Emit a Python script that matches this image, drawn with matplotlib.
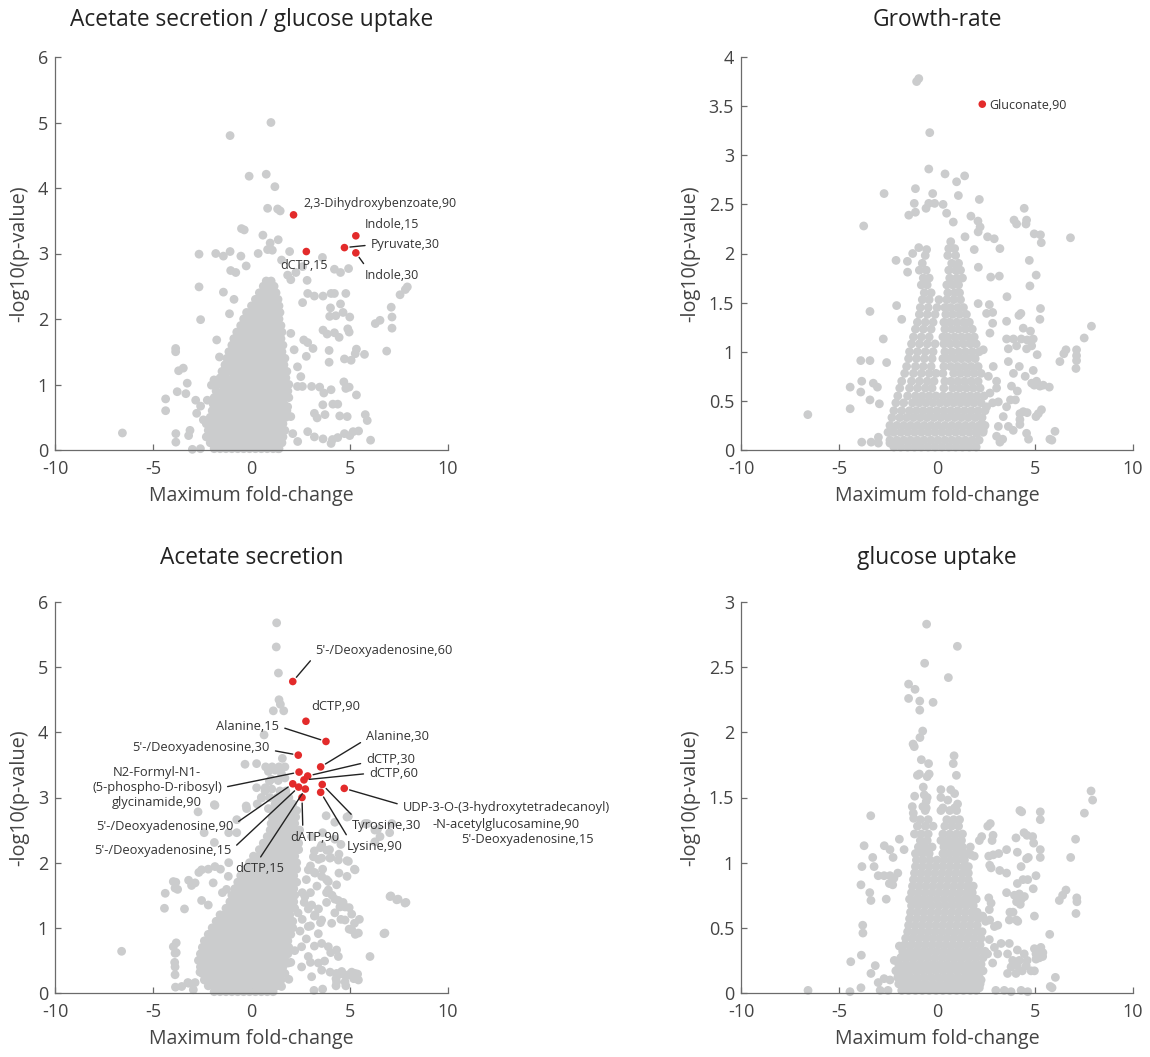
import matplotlib
matplotlib.use('Agg')
import matplotlib.pyplot as plt
from matplotlib.ticker import FuncFormatter
import numpy as np

plt.rcParams['font.family'] = ['Open Sans', 'DejaVu Sans']

GRAY = '#cbcccd'
RED = '#e32b2b'
TXT = '#333333'

# ---------------- Acetate secretion / glucose uptake ----------------
tl_core = [
    (0.02, [-1.9, -1.6, -1.3, -1.0, -0.7, -0.4, -0.1, 0.2, 0.5, 0.8, 1.1, 1.4]),
    (0.11, [-2.1, -1.75, -1.45, -1.15, -0.85, -0.55, -0.25, 0.05, 0.35, 0.65, 0.95, 1.25, 1.55]),
    (0.20, [-2.3, -2.0, -1.7, -1.4, -1.1, -0.8, -0.5, -0.2, 0.1, 0.4, 0.7, 1.0, 1.3, 1.6]),
    (0.30, [-2.2, -1.85, -1.55, -1.25, -0.95, -0.65, -0.35, -0.05, 0.25, 0.55, 0.85, 1.15, 1.45, 1.7]),
    (0.40, [-2.3, -2.0, -1.7, -1.4, -1.1, -0.8, -0.5, -0.2, 0.1, 0.4, 0.7, 1.0, 1.3, 1.6]),
    (0.50, [-2.1, -1.85, -1.55, -1.25, -0.95, -0.65, -0.35, -0.05, 0.25, 0.55, 0.85, 1.15, 1.45, 1.75]),
    (0.60, [-2.0, -1.7, -1.4, -1.1, -0.8, -0.5, -0.2, 0.1, 0.4, 0.7, 1.0, 1.3, 1.6, 1.8]),
    (0.70, [-1.95, -1.65, -1.35, -1.05, -0.75, -0.45, -0.15, 0.15, 0.45, 0.75, 1.05, 1.35, 1.65]),
    (0.80, [-1.9, -1.6, -1.3, -1.0, -0.7, -0.4, -0.1, 0.2, 0.5, 0.8, 1.1, 1.4, 1.7, 1.9]),
    (0.90, [-1.8, -1.45, -1.15, -0.85, -0.55, -0.25, 0.05, 0.35, 0.65, 0.95, 1.25, 1.55, 1.85]),
    (1.00, [-1.7, -1.4, -1.1, -0.8, -0.5, -0.2, 0.1, 0.4, 0.7, 1.0, 1.3, 1.6, 1.9]),
    (1.10, [-1.6, -1.3, -0.95, -0.65, -0.35, -0.05, 0.25, 0.55, 0.85, 1.15, 1.45, 1.75]),
    (1.20, [-1.5, -1.2, -0.9, -0.6, -0.3, 0.0, 0.3, 0.6, 0.9, 1.2, 1.5, 1.8]),
    (1.30, [-1.35, -1.05, -0.75, -0.45, -0.15, 0.15, 0.45, 0.75, 1.05, 1.35, 1.65]),
    (1.40, [-1.25, -0.95, -0.65, -0.35, -0.05, 0.25, 0.55, 0.85, 1.15, 1.45, 1.7]),
    (1.50, [-1.15, -0.85, -0.55, -0.25, 0.05, 0.35, 0.65, 0.95, 1.25, 1.55]),
    (1.60, [-1.0, -0.7, -0.4, -0.1, 0.2, 0.5, 0.8, 1.1, 1.4, 1.6]),
    (1.70, [-0.9, -0.6, -0.3, 0.0, 0.3, 0.6, 0.9, 1.2, 1.5]),
    (1.80, [-0.75, -0.45, -0.15, 0.15, 0.45, 0.75, 1.05, 1.35, 1.55]),
    (1.90, [-0.55, -0.25, 0.05, 0.35, 0.65, 0.95, 1.25, 1.5]),
    (2.00, [-0.4, -0.1, 0.2, 0.5, 0.8, 1.1, 1.4]),
    (2.10, [-0.25, 0.05, 0.35, 0.65, 0.95, 1.25, 1.45]),
    (2.20, [0.0, 0.3, 0.6, 0.9, 1.2, 1.4]),
    (2.30, [0.2, 0.5, 0.8, 1.1, 1.35]),
    (2.40, [0.4, 0.7, 1.0, 1.25]),
    (2.50, [0.6, 0.9, 1.15]),
    (2.58, [0.75, 1.0]),
]
tl_pts = [
    (0.99, 5.00), (-1.09, 4.80), (0.75, 4.21), (-0.12, 4.18), (1.19, 4.02), (1.33, 3.68), (0.82, 3.69), (1.46, 3.65),
    (-0.51, 3.38), (-0.37, 3.36), (0.58, 3.28), (1.36, 3.21), (0.95, 3.16),
    (-2.67, 2.99), (-1.82, 3.00), (-1.43, 2.96), (-1.09, 3.03), (-0.54, 2.96), (0.34, 3.00), (0.82, 3.06),
    (1.06, 3.05), (1.94, 3.03), (1.53, 2.90), (3.61, 2.94), (4.94, 2.77), (4.22, 2.76), (4.53, 2.71),
    (-1.06, 2.74), (-0.80, 2.71), (-0.27, 2.81), (-2.67, 2.49), (-1.43, 2.41), (-0.89, 2.30),
    (2.83, 2.59), (2.86, 2.39), (3.20, 2.35), (3.64, 2.35), (4.05, 2.39), (4.22, 2.39), (4.80, 2.39),
    (7.56, 2.37), (7.83, 2.45), (7.93, 2.49), (7.11, 2.18), (4.53, 2.23), (4.02, 2.17), (2.60, 2.25),
    (-2.59, 1.99), (-1.12, 2.08), (-0.17, 1.98), (3.98, 2.04), (4.29, 2.05), (4.66, 2.10), (5.00, 2.03),
    (6.54, 1.98), (6.30, 1.93), (7.15, 2.03), (7.15, 1.86), (3.64, 1.83), (3.85, 1.77), (4.22, 1.79),
    (4.46, 1.72), (4.97, 1.80), (4.90, 1.85), (-1.77, 1.68), (2.66, 1.68), (2.86, 1.64), (3.13, 1.55),
    (-3.86, 1.55), (-3.86, 1.50), (3.95, 1.52), (5.34, 1.54), (5.75, 1.46), (6.88, 1.51), (5.28, 1.47),
    (-1.63, 1.42), (2.79, 1.43), (4.73, 1.39), (5.07, 1.37), (3.95, 1.34), (-3.47, 1.25), (-3.71, 1.21),
    (-1.91, 1.07), (-2.04, 0.99), (4.70, 1.04), (4.97, 0.96), (5.34, 0.84), (4.80, 0.94),
    (3.06, 0.97), (3.47, 0.96), (2.59, 0.97), (3.68, 0.87), (4.05, 0.92), (-3.78, 0.89), (-3.34, 0.86),
    (-3.27, 1.02), (-4.37, 0.78), (-4.37, 0.60), (-2.84, 0.76), (-2.59, 0.67), (-2.79, 0.56), (-2.25, 0.76),
    (-2.45, 0.46), (3.20, 0.56), (3.34, 0.49), (3.74, 0.54), (4.14, 0.70), (3.63, 0.69), (4.39, 0.70),
    (4.49, 0.52), (4.87, 0.51), (5.79, 0.54), (5.89, 0.45), (-3.85, 0.25), (-3.85, 0.12), (-3.13, 0.30),
    (-3.20, 0.22), (-6.57, 0.26), (-3.01, 0.01), (-2.60, 0.02), (2.35, 0.13), (1.36, 0.02),
    (2.86, 0.28), (3.20, 0.20), (3.64, 0.17), (4.12, 0.16), (4.05, 0.10), (4.39, 0.19), (4.73, 0.25),
    (5.00, 0.22), (5.17, 0.28), (5.45, 0.29), (6.06, 0.15),
    (2.00, 2.60), (2.26, 2.71), (2.60, 2.80), (1.84, 2.67), (2.00, 1.78), (2.17, 1.53), (2.34, 1.27),
    (2.51, 1.12), (2.34, 0.97), (2.00, 0.51), (2.10, 0.25), (1.84, 0.66),
]
tl_red = [(2.14, 3.59), (2.79, 3.03), (4.73, 3.09), (5.31, 3.27), (5.31, 3.01)]
tl_labels = ['2,3-Dihydroxybenzoate,90', 'dCTP,15', 'Pyruvate,30', 'Indole,15', 'Indole,30']

# ---------------- Growth-rate ----------------
tr_core = [
    (0.03, [-2.2, -1.85, -1.5, -1.15, -0.8, -0.45, -0.1, 0.25, 0.6, 0.95, 1.3, 1.65, 2.0]),
    (0.10, [-2.4, -2.05, -1.7, -1.35, -1.0, -0.65, -0.3, 0.05, 0.4, 0.75, 1.1, 1.45, 1.8, 2.15]),
    (0.18, [-2.5, -2.2, -1.85, -1.5, -1.15, -0.8, -0.45, -0.1, 0.25, 0.6, 0.95, 1.3, 1.65, 2.0, 2.35]),
    (0.25, [-2.4, -2.05, -1.7, -1.35, -1.0, -0.65, -0.3, 0.05, 0.4, 0.75, 1.1, 1.45, 1.8, 2.15, 2.45]),
    (0.33, [-2.3, -1.9, -1.55, -1.2, -0.85, -0.5, -0.15, 0.2, 0.55, 0.9, 1.25, 1.6, 1.95, 2.3]),
    (0.40, [-2.2, -1.8, -1.4, -1.05, -0.7, -0.35, 0.0, 0.35, 0.7, 1.05, 1.4, 1.75, 2.1, 2.45]),
    (0.48, [-2.1, -1.7, -1.25, -0.9, -0.55, -0.2, 0.15, 0.5, 0.85, 1.2, 1.55, 1.9, 2.25]),
    (0.55, [-2.0, -1.5, -1.1, -0.75, -0.4, -0.05, 0.3, 0.65, 1.0, 1.35, 1.7, 2.05, 2.4]),
    (0.63, [-1.9, -1.4, -1.0, -0.6, -0.25, 0.35, 0.8, 1.15, 1.5, 1.85, 2.2]),
    (0.70, [-1.8, -1.3, -0.9, -0.5, -0.15, 0.4, 0.7, 1.05, 1.4, 1.75, 2.1]),
    (0.78, [-1.65, -1.2, -0.8, -0.4, -0.05, 0.3, 0.85, 1.2, 1.55, 1.9, 2.25]),
    (0.85, [-1.55, -1.1, -0.7, -0.3, 0.35, 0.7, 1.05, 1.4, 1.75, 2.1]),
    (0.93, [-1.45, -1.05, -0.65, -0.25, 0.3, 0.55, 0.9, 1.25, 1.6, 1.95]),
    (1.00, [-1.4, -1.0, -0.6, -0.2, 0.4, 0.75, 1.1, 1.45, 1.8, 2.15]),
    (1.08, [-1.3, -0.9, -0.5, -0.1, 0.35, 0.65, 1.0, 1.35, 1.7, 2.0]),
    (1.15, [-1.2, -0.8, -0.4, 0.3, 0.55, 0.9, 1.25, 1.6, 1.9]),
    (1.23, [-1.1, -0.7, -0.3, 0.4, 0.75, 1.1, 1.45, 1.8]),
    (1.30, [-1.0, -0.6, -0.2, 0.35, 0.65, 1.0, 1.35, 1.65]),
    (1.38, [-0.9, -0.5, -0.1, 0.45, 0.8, 1.15, 1.5]),
    (1.45, [-0.85, -0.45, 0.0, 0.4, 0.7, 1.05, 1.35]),
    (1.53, [-0.75, -0.4, 0.1, 0.5, 0.85, 1.2]),
    (1.60, [-0.65, -0.3, 0.55, 0.9, 1.15]),
    (1.68, [-0.8, -0.5, 0.5, 0.8, 1.1]),
    (1.75, [-0.7, -0.4, 0.65, 1.0, 1.3]),
    (1.83, [-0.9, -0.55, 0.6, 0.95, 1.2]),
    (1.90, [-0.75, 0.75, 1.1]),
    (1.98, [-0.6, 0.55, 0.95]),
    (2.05, [0.6, 0.9]),
    (2.12, [0.7]),
]
tr_pts = [
    (-1.04, 3.75), (-0.93, 3.78), (-0.37, 3.23), (-0.42, 2.86), (0.41, 2.81), (1.41, 2.79), (1.00, 2.73),
    (-1.10, 2.66), (-0.22, 2.61), (1.09, 2.59), (-2.70, 2.61), (2.16, 2.55),
    (-1.16, 2.51), (-0.42, 2.51), (-0.12, 2.51), (0.31, 2.50), (-0.56, 2.46), (-1.10, 2.42), (-1.44, 2.39),
    (0.49, 2.41), (-3.74, 2.28), (1.73, 2.38), (2.09, 2.33), (0.83, 2.32),
    (4.45, 2.46), (4.57, 2.34), (3.93, 2.34), (4.06, 2.30), (4.54, 2.30), (4.96, 2.20), (5.28, 2.19),
    (5.32, 2.11), (6.81, 2.16), (2.58, 2.17), (2.92, 2.15), (3.21, 2.05), (2.10, 2.22), (2.20, 2.27),
    (1.43, 2.17), (1.90, 2.04), (-0.93, 2.06), (-0.53, 2.04), (-1.24, 2.00), (-2.09, 1.93), (-1.51, 1.92),
    (4.71, 1.93), (2.11, 1.86), (5.06, 1.78), (2.74, 1.76), (3.18, 1.77), (-1.50, 1.81),
    (4.74, 1.67), (3.57, 1.56), (-2.06, 1.47), (2.67, 1.48), (2.84, 1.40), (5.28, 1.44), (5.25, 1.33),
    (4.28, 1.39), (4.18, 1.37), (-3.42, 1.41), (-1.80, 1.33), (3.55, 1.31), (2.84, 1.29),
    (7.88, 1.26), (7.51, 1.14), (4.77, 1.21), (4.40, 1.24), (-2.74, 1.13),
    (7.12, 1.02), (7.12, 0.96), (7.12, 0.91), (7.09, 0.83), (6.58, 1.02), (6.47, 0.98), (6.27, 0.90),
    (3.55, 1.13), (3.90, 1.13), (4.30, 1.13), (4.60, 1.12), (4.91, 1.13), (3.64, 1.03), (4.06, 1.06),
    (4.57, 1.03), (4.83, 1.06), (5.11, 0.97), (3.64, 0.90), (4.91, 0.81), (4.20, 0.85), (3.90, 0.78),
    (4.50, 0.75), (-3.89, 0.91), (-3.42, 0.91), (-2.57, 0.89),
    (-3.84, 0.70), (-3.89, 0.59), (-3.25, 0.68), (-3.04, 0.64), (-4.43, 0.64), (-4.43, 0.42), (-3.42, 0.51),
    (-2.94, 0.47), (-6.59, 0.36), (-3.84, 0.08), (-3.36, 0.08), (-2.99, 0.13), (-2.99, 0.07), (-2.40, 0.07),
    (-2.05, 0.07), (5.73, 0.64), (5.25, 0.65), (4.96, 0.66), (4.83, 0.68), (3.04, 0.70), (3.04, 0.63),
    (5.17, 0.37), (5.33, 0.41), (5.05, 0.34), (6.02, 0.19), (5.76, 0.11), (5.86, 0.10),
    (3.35, 0.11), (3.21, 0.08), (3.04, 0.14), (3.64, 0.24), (3.89, 0.20), (4.23, 0.26), (4.23, 0.31),
    (4.23, 0.37), (4.57, 0.17), (4.67, 0.11), (4.40, 0.39), (4.60, 0.38), (3.80, 0.65), (4.10, 0.60),
    (4.00, 0.51), (3.75, 0.51), (3.55, 0.44), (3.38, 0.34), (3.13, 0.24), (3.13, 0.49), (2.70, 0.58),
    (2.84, 0.48), (2.53, 0.44), (2.28, 0.27), (2.36, 0.20), (2.02, 0.17), (5.08, 0.70), (5.42, 0.66),
    (2.10, 1.49), (2.53, 1.39), (2.70, 1.19), (2.36, 1.02), (2.87, 0.85), (2.62, 0.75),
]
tr_red = [(2.31, 3.52)]
tr_labels = ['Gluconate,90']

# ---------------- Acetate secretion ----------------
bl_core = [
    (0.02, [-1.9, -1.6, -1.3, -1.0, -0.7, -0.4, -0.1, 0.2, 0.5, 0.8, 1.1]),
    (0.11, [-2.2, -1.9, -1.6, -1.3, -1.0, -0.7, -0.4, -0.1, 0.2, 0.5, 0.8, 1.1, 1.3]),
    (0.20, [-2.4, -2.05, -1.75, -1.45, -1.15, -0.85, -0.55, -0.25, 0.05, 0.35, 0.65, 0.95, 1.25, 1.5]),
    (0.30, [-2.5, -2.2, -1.9, -1.6, -1.3, -1.0, -0.7, -0.4, -0.1, 0.2, 0.5, 0.8, 1.1, 1.4, 1.6]),
    (0.40, [-2.6, -2.25, -1.95, -1.65, -1.35, -1.05, -0.75, -0.45, -0.15, 0.15, 0.45, 0.75, 1.05, 1.35, 1.6]),
    (0.50, [-2.7, -2.4, -2.1, -1.8, -1.5, -1.2, -0.9, -0.6, -0.3, 0.0, 0.3, 0.6, 0.9, 1.2, 1.5, 1.7]),
    (0.60, [-2.6, -2.25, -1.95, -1.65, -1.35, -1.05, -0.75, -0.45, -0.15, 0.15, 0.45, 0.75, 1.05, 1.35, 1.65, 1.85]),
    (0.70, [-2.5, -2.2, -1.9, -1.6, -1.3, -1.0, -0.7, -0.4, -0.1, 0.2, 0.5, 0.8, 1.1, 1.4, 1.7, 1.9]),
    (0.80, [-2.4, -2.05, -1.75, -1.45, -1.15, -0.85, -0.55, -0.25, 0.05, 0.35, 0.65, 0.95, 1.25, 1.55, 1.85]),
    (0.90, [-2.2, -1.9, -1.6, -1.3, -1.0, -0.7, -0.4, -0.1, 0.2, 0.5, 0.8, 1.1, 1.4, 1.7, 2.0]),
    (1.00, [-2.0, -1.75, -1.45, -1.15, -0.85, -0.55, -0.25, 0.05, 0.35, 0.65, 0.95, 1.25, 1.55, 1.85, 2.1]),
    (1.10, [-1.8, -1.5, -1.2, -0.9, -0.6, -0.3, 0.0, 0.3, 0.6, 0.9, 1.2, 1.5, 1.8, 2.1]),
    (1.20, [-1.6, -1.35, -1.05, -0.75, -0.45, -0.15, 0.15, 0.45, 0.75, 1.05, 1.35, 1.65, 1.95]),
    (1.30, [-1.3, -1.0, -0.7, -0.4, -0.1, 0.2, 0.5, 0.8, 1.1, 1.4, 1.7, 2.0, 2.2]),
    (1.40, [-1.1, -0.85, -0.55, -0.25, 0.05, 0.35, 0.65, 0.95, 1.25, 1.55, 1.85, 2.15]),
    (1.50, [-1.0, -0.7, -0.4, -0.1, 0.2, 0.5, 0.8, 1.1, 1.4, 1.7, 2.0, 2.2]),
    (1.60, [-0.85, -0.55, -0.25, 0.05, 0.35, 0.65, 0.95, 1.25, 1.55, 1.85, 2.15]),
    (1.70, [-0.7, -0.4, -0.1, 0.2, 0.5, 0.8, 1.1, 1.4, 1.7, 2.0, 2.3]),
    (1.80, [-0.55, -0.25, 0.05, 0.35, 0.65, 0.95, 1.25, 1.55, 1.85, 2.15]),
    (1.90, [-0.3, 0.0, 0.3, 0.6, 0.9, 1.2, 1.5, 1.8, 2.1, 2.3]),
    (2.00, [-0.1, 0.2, 0.5, 0.8, 1.1, 1.4, 1.7, 2.0, 2.3]),
    (2.10, [0.1, 0.4, 0.7, 1.0, 1.3, 1.6, 1.9, 2.2]),
    (2.20, [0.4, 0.7, 1.0, 1.3, 1.6, 1.9, 2.2, 2.4]),
    (2.30, [0.6, 0.9, 1.2, 1.5, 1.8, 2.1, 2.4]),
    (2.40, [0.8, 1.1, 1.4, 1.7, 2.0, 2.3]),
    (2.50, [0.95, 1.25, 1.55, 1.85, 2.15, 2.45]),
    (2.60, [1.0, 1.3, 1.6, 1.9, 2.2]),
    (2.70, [1.05, 1.35, 1.65, 1.95, 2.25]),
    (2.80, [1.1, 1.4, 1.7, 2.0, 2.3]),
    (2.90, [1.2, 1.5, 1.8, 2.1]),
    (3.00, [1.3, 1.6, 1.9]),
    (3.10, [1.45, 1.75]),
]
bl_pts = [
    (1.28, 5.68), (1.26, 5.31), (1.37, 4.91), (1.40, 4.50), (1.47, 4.43), (1.11, 4.33), (1.64, 4.33),
    (0.64, 3.96), (1.57, 3.60), (-0.33, 3.51), (0.26, 3.52), (0.72, 3.47), (1.05, 3.47), (1.40, 3.47),
    (1.70, 3.47), (0.86, 3.40), (1.20, 3.42), (1.53, 3.36), (1.00, 3.28), (1.36, 3.26), (1.70, 3.30),
    (0.26, 3.15), (0.69, 3.10), (1.03, 3.13), (1.70, 3.08), (0.50, 3.00), (0.93, 3.00), (1.70, 2.98),
    (-6.61, 0.64), (-3.83, 0.77), (-3.83, 0.62), (-3.91, 0.47), (-4.39, 1.53), (-4.43, 1.30), (-3.85, 1.70),
    (-3.76, 1.59), (-3.41, 1.29), (-2.87, 1.69), (-2.68, 1.85), (-2.20, 1.90), (-2.62, 0.32), (-2.87, 0.16),
    (-3.24, 0.16), (-3.87, 0.09), (-1.48, 1.54), (-1.95, 1.69), (-1.27, 1.59), (-1.58, 1.90), (-1.16, 2.00),
    (-1.89, 2.31), (-2.41, 2.46), (-2.72, 2.78), (-1.89, 2.89), (-0.27, 2.87), (-0.75, 2.66), (-1.16, 2.46),
    (-0.75, 2.46), (0.29, 2.90), (0.70, 3.15), (0.91, 3.25),
    (6.74, 0.91), (7.09, 1.49), (7.46, 1.44), (7.86, 1.39), (6.03, 0.56),
    (5.24, 1.07), (4.97, 0.98), (5.28, 0.90), (4.66, 1.39), (4.97, 1.31), (5.10, 1.21), (5.49, 1.13),
    (4.24, 1.23), (4.55, 1.13), (3.82, 1.54), (4.24, 1.44), (3.82, 1.39), (3.41, 1.29), (3.51, 1.08),
    (3.20, 1.18), (4.03, 0.62), (3.72, 0.49), (3.18, 0.04), (3.62, 0.06), (4.00, 0.32), (4.30, 0.22),
    (4.50, 0.29), (4.80, 0.26), (5.10, 0.32), (5.40, 0.29), (5.20, 0.22), (4.30, 0.11), (4.80, 0.11),
    (3.33, 1.64), (3.82, 1.74), (4.45, 1.84), (4.86, 1.79), (5.24, 1.90), (4.86, 2.03), (4.45, 2.13),
    (3.97, 2.20), (4.03, 2.08), (3.41, 2.05), (3.62, 1.90), (3.00, 1.95), (3.20, 1.85), (2.79, 1.74),
    (3.00, 1.54), (2.58, 1.54), (2.68, 1.39), (2.89, 1.29), (2.37, 1.23), (2.58, 1.13), (3.00, 1.03),
    (2.47, 0.95), (2.79, 0.83), (3.20, 0.72), (3.00, 0.47), (1.80, 0.80), (2.20, 0.65), (2.00, 0.47),
    (1.60, 0.32), (1.90, 0.21),
    (3.80, 2.72), (4.24, 2.62), (4.86, 2.70), (5.90, 2.60), (6.41, 2.51), (7.03, 2.46), (7.14, 2.60),
    (4.24, 2.36), (4.55, 2.28), (3.62, 2.46), (3.51, 2.23), (3.20, 2.18), (4.93, 2.71), (5.78, 2.60),
    (6.28, 2.50), (6.54, 2.40), (6.28, 2.32), (3.06, 2.40), (3.57, 2.27), (3.83, 2.19), (3.15, 2.09),
    (3.57, 2.07), (3.99, 2.07), (4.42, 2.04), (4.93, 2.02), (5.27, 1.89), (2.89, 1.89), (3.23, 1.84),
    (3.57, 1.79), (3.91, 1.71), (4.33, 1.66), (3.91, 1.58), (4.10, 1.50), (4.42, 1.42), (4.76, 1.32),
    (4.50, 1.32), (7.05, 1.48), (7.39, 1.43), (7.81, 1.38), (2.72, 1.48), (3.06, 1.35), (3.23, 1.20),
    (3.57, 1.12), (4.08, 1.07), (4.76, 1.12), (5.10, 0.97), (5.44, 0.92), (6.79, 0.92),
    (2.89, 1.02), (3.40, 0.91), (3.57, 0.76), (3.91, 0.71), (4.33, 0.66), (4.42, 0.56), (3.40, 0.46),
    (3.57, 0.35), (3.06, 0.25), (4.33, 0.30), (4.59, 0.33), (4.93, 0.28), (5.27, 0.30), (5.44, 0.20),
    (4.76, 0.17), (4.33, 0.17), (2.55, 0.71), (2.89, 0.56), (2.55, 0.40), (1.87, 0.46), (1.70, 0.30),
    (1.53, 0.10), (-3.98, 1.71), (-3.89, 1.61), (-3.20, 1.73), (-3.05, 1.65), (-2.54, 1.42),
    (-2.20, 1.35), (-2.54, 1.89), (-1.86, 1.94), (-1.18, 1.79), (-1.86, 2.88), (-0.25, 2.83), (0.52, 2.99),
    (0.86, 2.83), (-3.98, 0.71), (-3.89, 0.61), (-3.89, 0.40), (-3.89, 0.28), (-3.20, 0.15), (-3.55, 0.10),
    (-2.96, 0.05),
]
bl_red = [(2.10, 4.78), (2.77, 4.17), (3.79, 3.86), (2.38, 3.65), (3.52, 3.47), (2.42, 3.39), (2.86, 3.33),
          (2.67, 3.27), (2.10, 3.21), (2.40, 3.16), (2.74, 3.13), (2.57, 3.00), (3.60, 3.20), (3.52, 3.08),
          (4.72, 3.14)]
bl_labels = ["5'-/Deoxyadenosine,60", 'dCTP,90', 'Alanine,15', "5'-/Deoxyadenosine,30", 'Alanine,30',
             'N2-Formyl-N1-\n(5-phospho-D-ribosyl)\nglycinamide,90', 'dCTP,30', 'dCTP,60',
             "5'-/Deoxyadenosine,90", "5'-/Deoxyadenosine,15", 'dCTP,15', 'dATP,90', 'Tyrosine,30',
             'Lysine,90', 'UDP-3-O-(3-hydroxytetradecanoyl)']
bl_extra_text = ['-N-acetylglucosamine,90', "5'-Deoxyadenosine,15"]

# ---------------- glucose uptake ----------------
br_core = [
    (0.02, [-1.8, -1.45, -1.1, -0.75, -0.4, -0.05, 0.3, 0.65, 1.0, 1.35, 1.7, 2.0]),
    (0.07, [-1.95, -1.6, -1.25, -0.9, -0.55, -0.2, 0.15, 0.5, 0.85, 1.2, 1.55, 1.9, 2.2]),
    (0.12, [-2.0, -1.7, -1.35, -1.0, -0.65, -0.3, 0.05, 0.4, 0.75, 1.1, 1.45, 1.8, 2.15]),
    (0.17, [-2.1, -1.8, -1.45, -1.1, -0.75, -0.4, -0.05, 0.3, 0.65, 1.0, 1.35, 1.7, 2.05, 2.35]),
    (0.22, [-1.95, -1.6, -1.25, -0.9, -0.55, -0.2, 0.15, 0.5, 0.85, 1.2, 1.55, 1.9, 2.25]),
    (0.27, [-1.85, -1.5, -1.15, -0.8, -0.45, -0.1, 0.25, 0.6, 0.95, 1.3, 1.65, 2.0, 2.35]),
    (0.32, [-1.75, -1.4, -1.05, -0.7, -0.35, 0.0, 0.35, 0.7, 1.05, 1.4, 1.75, 2.1, 2.45]),
    (0.37, [-1.65, -1.3, -0.95, -0.6, -0.25, 0.1, 0.45, 0.8, 1.15, 1.5, 1.85, 2.2]),
    (0.42, [-1.6, -1.25, -0.9, -0.55, -0.2, 0.15, 0.5, 0.85, 1.2, 1.55, 1.9, 2.25]),
    (0.47, [-1.5, -1.15, -0.8, -0.45, -0.1, 0.25, 0.6, 0.95, 1.3, 1.65, 2.0, 2.3]),
    (0.52, [-1.45, -1.1, -0.75, -0.4, -0.05, 0.3, 0.65, 1.0, 1.35, 1.7, 2.05]),
    (0.57, [-1.4, -1.05, -0.7, -0.35, 0.0, 0.35, 0.7, 1.05, 1.4, 1.75, 2.1]),
    (0.62, [-1.35, -1.0, -0.65, -0.3, 0.05, 0.4, 0.75, 1.1, 1.45, 1.8, 2.05]),
    (0.67, [-1.3, -0.95, -0.6, -0.25, 0.1, 0.45, 0.8, 1.15, 1.5, 1.85]),
    (0.72, [-1.4, -1.05, -0.7, -0.35, 0.0, 0.35, 0.7, 1.05, 1.4, 1.75, 2.0]),
    (0.77, [-1.3, -0.95, -0.6, -0.25, 0.1, 0.45, 0.8, 1.15, 1.5, 1.8]),
    (0.82, [-1.25, -0.9, -0.55, -0.2, 0.15, 0.5, 0.85, 1.2, 1.55, 1.85]),
    (0.87, [-1.2, -0.85, -0.5, -0.15, 0.2, 0.55, 0.9, 1.25, 1.6]),
    (0.92, [-1.15, -0.8, -0.45, -0.1, 0.25, 0.6, 0.95, 1.3, 1.6]),
    (0.97, [-1.1, -0.75, -0.4, -0.05, 0.3, 0.65, 1.0, 1.35, 1.6]),
    (1.02, [-1.05, -0.7, -0.35, 0.0, 0.35, 0.7, 1.05, 1.4]),
    (1.07, [-1.1, -0.75, -0.4, 0.3, 0.6, 0.95, 1.3, 1.5]),
    (1.12, [-0.95, -0.6, -0.25, 0.35, 0.7, 1.05, 1.3]),
    (1.17, [-0.85, -0.5, 0.2, 0.55, 0.9, 1.25]),
    (1.22, [-1.15, -0.8, -0.45, 0.3, 0.65, 1.0, 1.3]),
    (1.28, [-1.0, -0.6, -0.2, 0.4, 0.75, 1.1]),
    (1.33, [-0.85, -0.45, 0.5, 0.85, 1.15]),
    (1.40, [-0.6, 0.2, 0.65, 1.0]),
]
br_pts = [
    (-0.53, 2.83), (1.04, 2.66), (-0.63, 2.53), (0.58, 2.42), (-1.45, 2.37), (-1.12, 2.33), (-1.45, 2.26),
    (-0.88, 2.24), (-0.20, 2.23), (-0.88, 2.17), (-0.73, 2.01), (-0.87, 1.96), (-1.22, 1.91), (-1.16, 1.89),
    (-0.80, 1.79), (-0.43, 1.76), (0.87, 1.82), (0.83, 1.76), (0.99, 1.67), (-1.00, 1.67), (-0.90, 1.68),
    (-0.40, 1.68), (-0.50, 1.66), (-1.14, 1.51), (-1.26, 1.43), (-1.21, 1.38), (-1.19, 1.34),
    (-0.70, 1.58), (-0.65, 1.52), (-0.55, 1.47), (-0.50, 1.50), (-0.72, 1.43), (-0.55, 1.42),
    (0.20, 1.56), (0.70, 1.56), (0.90, 1.53), (0.20, 1.50), (0.55, 1.48), (1.05, 1.45), (0.30, 1.42),
    (0.90, 1.42), (-3.38, 1.36), (4.23, 1.40), (4.32, 1.39), (5.27, 1.39), (5.27, 1.33), (7.86, 1.55),
    (7.94, 1.48), (7.52, 1.38), (7.07, 1.18), (6.82, 1.04), (-3.72, 1.13), (-3.28, 1.04), (-3.21, 0.97),
    (-3.00, 0.90), (-2.70, 0.90), (-3.83, 0.97), (-3.88, 0.83), (-2.69, 1.13), (-2.40, 1.10), (-2.24, 1.04),
    (-2.40, 0.90), (-2.20, 0.88), (-2.00, 0.92), (-2.43, 0.84), (-2.26, 0.83), (-3.43, 0.77), (-3.37, 0.71),
    (-2.59, 0.72), (-1.92, 1.18), (-1.68, 1.10), (2.72, 1.30), (2.59, 1.28), (2.28, 1.20), (2.16, 1.17),
    (2.86, 1.21), (2.81, 1.17), (1.70, 1.12), (1.73, 1.06), (1.90, 1.05), (2.64, 1.05), (2.87, 1.06),
    (3.15, 1.07), (3.55, 1.10), (2.69, 0.98), (2.76, 0.96), (3.20, 0.94), (3.55, 0.92), (4.03, 1.19),
    (4.10, 1.08), (4.44, 1.23), (4.59, 1.21), (4.88, 1.20), (4.93, 1.15), (5.27, 1.10), (5.27, 1.04),
    (4.57, 1.03), (4.66, 1.04), (5.05, 0.90), (4.29, 0.97), (4.10, 0.84), (4.39, 0.87), (4.63, 0.87),
    (3.55, 0.77), (3.95, 0.75), (4.20, 0.76), (4.06, 0.70), (4.30, 0.72), (4.46, 0.74), (4.25, 0.68),
    (4.91, 0.80), (3.72, 0.62), (3.88, 0.62), (3.69, 0.56), (4.05, 0.56), (4.12, 0.55), (4.97, 0.59),
    (6.58, 0.79), (6.41, 0.75), (6.24, 0.71), (7.13, 0.73), (7.14, 0.70), (7.09, 0.61),
    (2.64, 0.73), (2.76, 0.69), (2.67, 0.64), (3.10, 0.52), (2.93, 0.51), (2.69, 0.56), (2.48, 0.55),
    (2.33, 0.59), (-3.79, 0.52), (-3.78, 0.46), (-3.86, 0.29), (-4.40, 0.24), (-6.58, 0.02), (-4.44, 0.01),
    (-3.88, 0.04), (-3.37, 0.15), (-3.15, 0.21), (-3.00, 0.08), (-2.70, 0.11), (-2.40, 0.10), (-2.90, 0.02),
    (-2.50, 0.02), (-2.18, 0.25), (-1.92, 0.36), (-1.79, 0.28), (-2.00, 0.18), (-1.67, 0.15), (-1.84, 0.07),
    (5.75, 0.45), (6.04, 0.12), (5.78, 0.05), (5.87, 0.04), (4.97, 0.34), (5.05, 0.30), (5.30, 0.35),
    (5.40, 0.31), (5.05, 0.26), (5.22, 0.27), (5.39, 0.28), (4.10, 0.33), (4.20, 0.25), (4.45, 0.30),
    (4.60, 0.25), (4.55, 0.21), (4.35, 0.17), (4.10, 0.21), (3.69, 0.38), (3.60, 0.30), (3.86, 0.25),
    (3.78, 0.20), (3.27, 0.38), (3.10, 0.30), (2.93, 0.35), (2.67, 0.41), (2.58, 0.30), (2.84, 0.23),
    (3.60, 0.15), (4.03, 0.15), (4.80, 0.17), (4.97, 0.17), (3.00, 0.02), (3.43, 0.02), (3.78, 0.01),
    (4.29, 0.02), (4.63, 0.01), (1.70, 0.12), (1.99, 0.12), (2.25, 0.10), (2.16, 0.04), (1.90, 0.04),
]

# label placement (data coords): x, y, ha, relpos or None for no leader line
tl_lab_pos = [(2.66, 3.76, 'left', None), (1.46, 2.82, 'left', None), (6.06, 3.13, 'left', (0, 0.5)),
              (5.75, 3.45, 'left', None), (5.75, 2.67, 'left', (0.05, 1.0))]
tr_lab_pos = [(2.67, 3.51, 'left', None)]
bl_lab_pos = [(3.23, 5.26, 'left', (0, 0.1)), (3.06, 4.39, 'left', None), (1.42, 4.09, 'right', (1, 0.5)),
              (0.94, 3.76, 'right', (1, 0.35)), (5.81, 3.93, 'left', (0, 0.3)),
              (-4.80, 3.15, 'center', (1, 0.5)), (5.83, 3.58, 'left', (0, 0.3)), (5.98, 3.37, 'left', (0, 0.5)),
              (-0.91, 2.56, 'right', (1, 0.6)), (-1.00, 2.18, 'right', (1, 0.6)), (0.42, 1.91, 'center', (0.45, 1.0)),
              (3.24, 2.39, 'center', (0.25, 1.0)), (5.13, 2.57, 'left', (0.05, 1.0)), (4.84, 2.25, 'left', (0.05, 1.0)),
              (7.69, 2.84, 'left', (0, 0.7))]
bl_extra_pos = [(9.22, 2.58), (10.66, 2.36)]


def gather(core, pts):
    xs = [x for yv, row in core for x in row] + [p[0] for p in pts]
    ys = [yv for yv, row in core for x in row] + [p[1] for p in pts]
    return np.array(xs), np.array(ys)


W, H = 1150, 1057
fig = plt.figure(figsize=(W / 100, H / 100), dpi=100)


def make_ax(l, r, t, b):
    return fig.add_axes([l / W, 1 - b / H, (r - l) / W, (b - t) / H])


axes = [make_ax(55, 448, 57, 450), make_ax(741, 1133, 57, 450),
        make_ax(55, 448, 602, 993), make_ax(741, 1133, 602, 993)]
titles = ['Acetate secretion / glucose uptake', 'Growth-rate', 'Acetate secretion', 'glucose uptake']
title_y = [20, 20, 558, 558]
ymax = [6, 4, 6, 3]
ystep = [1, 0.5, 1, 0.5]
cores = [tl_core, tr_core, bl_core, br_core]
ptss = [tl_pts, tr_pts, bl_pts, br_pts]
reds = [tl_red, tr_red, bl_red, []]
labs = [tl_labels, tr_labels, bl_labels, []]
lab_pos = [tl_lab_pos, tr_lab_pos, bl_lab_pos, []]
lab_size = [9.0, 9.0, 9.3, 9.3]

for i, ax in enumerate(axes):
    gx, gy = gather(cores[i], ptss[i])
    ax.scatter(gx, gy, s=40, c=GRAY, edgecolors='none', zorder=2, clip_on=False)
    if reds[i]:
        rx = [p[0] for p in reds[i]]
        ry = [p[1] for p in reds[i]]
        ax.scatter(rx, ry, s=30, c=RED, edgecolors='none', zorder=4, clip_on=False)
        for (px, py), lab, (lx, ly, ha, rel) in zip(reds[i], labs[i], lab_pos[i]):
            if rel is None:
                ax.text(lx, ly, lab, ha=ha, va='center', fontsize=lab_size[i], color=TXT,
                        zorder=5, clip_on=False)
            else:
                ax.annotate(lab, xy=(px, py), xytext=(lx, ly), ha=ha, va='center',
                            multialignment='center', fontsize=lab_size[i], color=TXT, zorder=5,
                            annotation_clip=False,
                            arrowprops=dict(arrowstyle='-', color='#222222', lw=1.0,
                                            shrinkA=2, shrinkB=4, relpos=rel))
    if i == 2:
        for t, (lx, ly) in zip(bl_extra_text, bl_extra_pos):
            ax.text(lx, ly, t, ha='left', va='center', fontsize=lab_size[i], color=TXT, clip_on=False)

    ax.set_xlim(-10, 10)
    ax.set_ylim(0, ymax[i])
    ax.set_xticks([-10, -5, 0, 5, 10])
    ax.set_yticks(np.arange(0, ymax[i] + 0.01, ystep[i]))
    ax.yaxis.set_major_formatter(FuncFormatter(lambda v, p: '%g' % v))
    ax.xaxis.set_major_formatter(FuncFormatter(lambda v, p: '%g' % v))
    for s in ['top', 'right']:
        ax.spines[s].set_visible(False)
    for s in ['left', 'bottom']:
        ax.spines[s].set_color('#6b6b6b')
        ax.spines[s].set_linewidth(0.9)
    ax.tick_params(direction='in', length=4, width=0.9, color='#6b6b6b', labelcolor='#444444',
                   labelsize=13)
    ax.tick_params(axis='x', pad=7)
    ax.tick_params(axis='y', pad=5)
    ax.set_xlabel('Maximum fold-change', fontsize=14.1, color='#444444', labelpad=6)
    ax.set_ylabel('-log10(p-value)', fontsize=14.3, color='#444444', labelpad=6)
    cx = (ax.get_position().x0 + ax.get_position().x1) / 2
    fig.text(cx, 1 - title_y[i] / H, titles[i], ha='center', va='center', fontsize=16.4, color='#222222')

fig.savefig('out.png', dpi=100)
